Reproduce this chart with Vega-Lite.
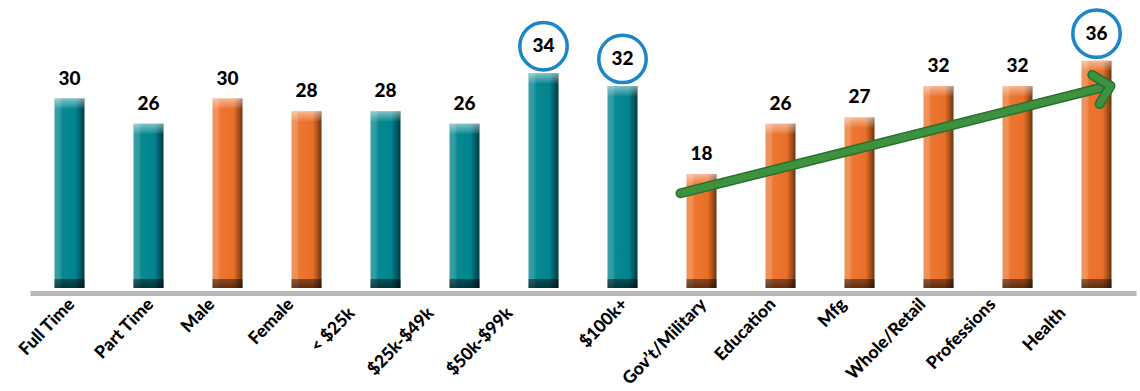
{
  "$schema": "https://vega.github.io/schema/vega-lite/v6.json",
  "width": 1106,
  "height": 288,
  "autosize": {"type": "none"},
  "padding": {"left": 30, "top": 0, "right": 4, "bottom": 103},
  "background": "white",
  "config": {"view": {"stroke": null}},
  "datasets": {
    "bars": [
      {"category": "Full Time", "value": 30, "segment": "Employment"},
      {"category": "Part Time", "value": 26, "segment": "Employment"},
      {"category": "Male", "value": 30, "segment": "Gender"},
      {"category": "Female", "value": 28, "segment": "Gender"},
      {"category": "< $25k", "value": 28, "segment": "Income"},
      {"category": "$25k-$49k", "value": 26, "segment": "Income"},
      {"category": "$50k-$99k", "value": 34, "segment": "Income"},
      {"category": "$100k+", "value": 32, "segment": "Income"},
      {"category": "Gov’t/Military", "value": 18, "segment": "Industry"},
      {"category": "Education", "value": 26, "segment": "Industry"},
      {"category": "Mfg", "value": 27, "segment": "Industry"},
      {"category": "Whole/Retail", "value": 32, "segment": "Industry"},
      {"category": "Professions", "value": 32, "segment": "Industry"},
      {"category": "Health", "value": 36, "segment": "Industry"}
    ],
    "trend": [
      {"from": "Gov’t/Military", "to": "Health", "start": 15, "end": 32}
    ]
  },
  "data": {"name": "bars"},
  "encoding": {
    "x": {
      "field": "category",
      "type": "nominal",
      "sort": null,
      "scale": {
        "domain": ["Full Time", "Part Time", "Male", "Female", "< $25k", "$25k-$49k", "$50k-$99k", "$100k+", "Gov’t/Military", "Education", "Mfg", "Whole/Retail", "Professions", "Health"],
        "paddingInner": 0.62,
        "paddingOuter": 0.31
      },
      "axis": {
        "title": null,
        "ticks": false,
        "offset": 5,
        "domainColor": "#b8b8b8",
        "domainWidth": 5,
        "labelAngle": -46,
        "labelAlign": "right",
        "labelBaseline": "top",
        "labelFont": "Lato",
        "labelFontWeight": 900,
        "labelFontSize": 17.5,
        "labelColor": "#000000",
        "labelLimit": 0,
        "labelOverlap": false,
        "labelBound": false,
        "labelFlush": false,
        "labelPadding": {
          "condition": {"test": "indexof(['< $25k','$25k-$49k','$50k-$99k','Health'], datum.value) >= 0", "value": 11},
          "value": 2
        },
        "labelOffset": {
          "condition": [
            {"test": "indexof(['< $25k','$25k-$49k','$50k-$99k','Health'], datum.value) >= 0", "value": -40},
            {"test": "indexof(['Male','Female','Mfg','Whole/Retail'], datum.value) >= 0", "value": -22},
            {"test": "datum.value == 'Professions'", "value": -31},
            {"test": "datum.value == 'Education'", "value": -14}
          ],
          "value": -4
        }
      }
    },
    "y": {
      "field": "value",
      "type": "quantitative",
      "scale": {"domain": [0, 45.6], "nice": false, "zero": true},
      "axis": null
    }
  },
  "layer": [
    {
      "transform": [{"filter": {"field": "segment", "oneOf": ["Employment", "Income"]}}],
      "mark": {
        "type": "bar",
        "fill": {
          "gradient": "linear", "x1": 0, "x2": 1, "y1": 0, "y2": 0,
          "stops": [
            {"offset": 0, "color": "#3a9fa8"},
            {"offset": 0.18, "color": "#2e9aa4"},
            {"offset": 0.26, "color": "#07898f"},
            {"offset": 0.7, "color": "#00848f"},
            {"offset": 0.84, "color": "#00606a"},
            {"offset": 1, "color": "#003b41"}
          ]
        }
      }
    },
    {
      "transform": [{"filter": {"field": "segment", "oneOf": ["Gender", "Industry"]}}],
      "mark": {
        "type": "bar",
        "fill": {
          "gradient": "linear", "x1": 0, "x2": 1, "y1": 0, "y2": 0,
          "stops": [
            {"offset": 0, "color": "#ef9358"},
            {"offset": 0.18, "color": "#f0905a"},
            {"offset": 0.26, "color": "#ec7530"},
            {"offset": 0.7, "color": "#ea7029"},
            {"offset": 0.84, "color": "#b4561d"},
            {"offset": 1, "color": "#6a3412"}
          ]
        }
      }
    },
    {
      "mark": {
        "type": "rect",
        "y2Offset": 10,
        "fill": {
          "gradient": "linear", "x1": 0, "x2": 0, "y1": 0, "y2": 1,
          "stops": [
            {"offset": 0, "color": "rgba(255,255,255,0.5)"},
            {"offset": 1, "color": "rgba(255,255,255,0.05)"}
          ]
        }
      },
      "encoding": {"y2": {"field": "value"}}
    },
    {
      "mark": {
        "type": "rect",
        "yOffset": -9,
        "fill": {
          "gradient": "linear", "x1": 0, "x2": 0, "y1": 0, "y2": 1,
          "stops": [
            {"offset": 0, "color": "rgba(0,0,0,0.4)"},
            {"offset": 1, "color": "rgba(0,0,0,0.6)"}
          ]
        }
      },
      "encoding": {"y": {"datum": 0}, "y2": {"datum": 0}}
    },
    {
      "transform": [{"filter": {"not": {"field": "category", "oneOf": ["$50k-$99k", "$100k+", "Health"]}}}],
      "mark": {"type": "text", "dy": -20, "baseline": "middle", "font": "Lato", "fontWeight": 900, "fontSize": 19, "color": "#000000"},
      "encoding": {"text": {"field": "value", "type": "quantitative"}}
    },
    {
      "transform": [{"filter": {"field": "category", "oneOf": ["$50k-$99k", "$100k+", "Health"]}}],
      "mark": {"type": "text", "dy": -27, "baseline": "middle", "font": "Lato", "fontWeight": 900, "fontSize": 19, "color": "#000000"},
      "encoding": {"text": {"field": "value", "type": "quantitative"}}
    },
    {
      "transform": [{"filter": {"field": "category", "oneOf": ["$50k-$99k", "$100k+", "Health"]}}],
      "mark": {"type": "point", "shape": "circle", "filled": false, "stroke": "#1c86c8", "strokeWidth": 3.5, "size": 2250, "yOffset": -27, "opacity": 1}
    },
    {
      "data": {"name": "trend"},
      "mark": {"type": "rule", "stroke": "#2b6e2c", "strokeWidth": 10, "strokeCap": "round", "xOffset": -21, "x2Offset": 12},
      "encoding": {
        "x": {"field": "from", "type": "nominal"},
        "x2": {"field": "to"},
        "y": {"field": "start", "type": "quantitative"},
        "y2": {"field": "end"}
      }
    },
    {
      "data": {"name": "trend"},
      "mark": {"type": "rule", "stroke": "#3d9240", "strokeWidth": 7, "strokeCap": "round", "xOffset": -21, "x2Offset": 12},
      "encoding": {
        "x": {"field": "from", "type": "nominal"},
        "x2": {"field": "to"},
        "y": {"field": "start", "type": "quantitative"},
        "y2": {"field": "end"}
      }
    },
    {
      "data": {"name": "trend"},
      "mark": {"type": "point", "shape": "M-1,-1L0,0L-1,1", "filled": false, "stroke": "#2b6e2c", "strokeWidth": 10, "strokeCap": "round", "strokeJoin": "round", "size": 900, "angle": 346, "xOffset": 14, "opacity": 1},
      "encoding": {
        "x": {"field": "to", "type": "nominal"},
        "y": {"field": "end", "type": "quantitative"}
      }
    },
    {
      "data": {"name": "trend"},
      "mark": {"type": "point", "shape": "M-1,-1L0,0L-1,1", "filled": false, "stroke": "#3d9240", "strokeWidth": 7, "strokeCap": "round", "strokeJoin": "round", "size": 900, "angle": 346, "xOffset": 14, "opacity": 1},
      "encoding": {
        "x": {"field": "to", "type": "nominal"},
        "y": {"field": "end", "type": "quantitative"}
      }
    }
  ]
}
